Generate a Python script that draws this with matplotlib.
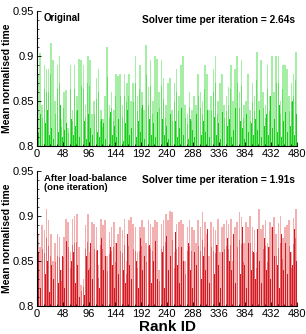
import matplotlib.pyplot as plt
import numpy as np

plt.rcParams['font.family'] = ['Liberation Sans', 'DejaVu Sans']

# heights above 0.8, in thousandths, one value every 4 ranks
# top panel (original), light bars at ranks 0,4,8..., dark bars at ranks 2,6,10...
orig_light = [80, 103, 45, 90, 85, 85, 115, 95, 50, 90, 100, 30, 60, 62, 20, 90, 40, 90, 55, 97,
              95, 90, 45, 100, 95, 35, 50, 75, 85, 40, 30, 55, 110, 45, 60, 40, 80, 78, 80, 45,
              80, 70, 80, 50, 70, 100, 55, 90, 60, 40, 112, 65, 95, 50, 100, 97, 60, 95, 75, 45,
              70, 75, 40, 70, 85, 55, 90, 100, 45, 35, 60, 40, 55, 45, 80, 60, 50, 90, 80, 40,
              55, 85, 100, 50, 70, 80, 45, 55, 65, 90, 50, 85, 100, 60, 95, 45, 50, 80, 40, 70,
              55, 105, 50, 95, 60, 45, 90, 55, 100, 60, 100, 100, 50, 90, 90, 85, 55, 70, 80, 105]
orig_dark = [15, 35, 10, 25, 40, 12, 20, 8, 30, 15, 45, 10, 18, 25, 5, 30, 12, 22, 40, 10,
             15, 28, 8, 35, 20, 12, 42, 15, 10, 30, 25, 8, 18, 38, 12, 22, 10, 30, 15, 5,
             25, 40, 12, 20, 35, 10, 28, 15, 45, 8, 20, 30, 12, 25, 10, 38, 18, 30, 12, 22,
             8, 35, 15, 28, 10, 20, 42, 12, 25, 8, 30, 18, 10, 35, 22, 12, 28, 15, 40, 10,
             20, 32, 12, 25, 8, 38, 15, 22, 30, 10, 18, 42, 12, 28, 20, 8, 35, 15, 25, 12,
             30, 18, 40, 10, 22, 35, 12, 55, 20, 30, 15, 45, 10, 28, 38, 15, 22, 50, 12, 35]

# bottom panel (after load-balance)
lb_light = [80, 65, 90, 84, 108, 95, 80, 50, 70, 80, 77, 40, 77, 97, 93, 60, 97, 100, 102, 65,
            23, 30, 90, 102, 60, 93, 91, 88, 45, 97, 90, 95, 55, 82, 88, 93, 70, 80, 88, 84,
            97, 50, 95, 99, 91, 88, 60, 88, 95, 88, 70, 95, 91, 88, 95, 93, 40, 91, 95, 102,
            95, 106, 104, 60, 91, 93, 95, 91, 50, 88, 95, 88, 84, 70, 95, 88, 104, 93, 80, 55,
            93, 88, 84, 97, 60, 88, 91, 95, 91, 97, 50, 88, 93, 104, 99, 70, 93, 88, 100, 88,
            84, 60, 108, 85, 90, 95, 70, 93, 88, 99, 80, 92, 100, 75, 88, 90, 95, 60, 98, 108]
lb_dark = [60, 20, 70, 35, 50, 15, 45, 30, 65, 25, 40, 55, 20, 72, 35, 50, 60, 25, 45, 10,
           5, 12, 55, 40, 70, 30, 48, 62, 20, 75, 40, 55, 30, 65, 45, 20, 70, 35, 58, 40,
           25, 80, 45, 30, 65, 50, 20, 75, 40, 55, 35, 68, 25, 50, 72, 30, 45, 60, 20, 78,
           40, 55, 30, 82, 45, 25, 65, 50, 35, 70, 40, 20, 60, 45, 75, 30, 55, 40, 85, 25,
           50, 35, 68, 45, 20, 60, 30, 75, 50, 40, 80, 25, 55, 35, 88, 45, 20, 70, 40, 60,
           30, 85, 50, 25, 75, 40, 65, 30, 88, 55, 45, 20, 80, 40, 70, 35, 60, 45, 85, 50]

xticks = np.arange(0, 481, 48)
yticks = [0.8, 0.85, 0.9, 0.95]

fig = plt.figure(figsize=(3.06, 3.34), dpi=100)
ax1 = fig.add_axes([0.121, 0.563, 0.85, 0.404])
ax2 = fig.add_axes([0.121, 0.084, 0.85, 0.404])


def draw(ax, light, dark, c_light, c_mid, c_dark):
    r = np.arange(len(light)) * 4
    light = np.array(light) / 1000
    dark = np.array(dark) / 1000
    ax.bar(r, light, bottom=0.8, width=3.0, color=c_light, linewidth=0, align='edge')
    # lower part of the tall bars is a stronger shade
    ax.bar(r + 0.8, light * 0.7, bottom=0.8, width=1.4, color=c_mid, linewidth=0, align='edge')
    ax.bar(r + 2.2, dark, bottom=0.8, width=1.6, color=c_dark, linewidth=0, align='edge')
    ax.set_xlim(0, 480)
    ax.set_ylim(0.8, 0.95)
    ax.set_xticks(xticks)
    ax.set_yticks(yticks)
    ax.set_yticklabels(['0.8', '0.85', '0.9', '0.95'])
    ax.minorticks_on()
    ax.tick_params(direction='in', labelsize=8, length=3, width=0.6, pad=2)
    ax.tick_params(which='minor', direction='in', length=1.5, width=0.5)
    for s in ['top', 'right']:
        ax.spines[s].set_visible(False)
    ax.set_ylabel('Mean normalised time', fontsize=7.5, fontweight='bold')
    ax.yaxis.set_label_coords(-0.097, 0.5)


draw(ax1, orig_light, orig_dark, '#a6eea6', '#66e066', '#1ccc1c')
draw(ax2, lb_light, lb_dark, '#f2b0b0', '#e66a6e', '#d01a24')

ax1.text(0.025, 0.95, 'Original', transform=ax1.transAxes, fontsize=7, fontweight='bold', va='center')
ax1.text(0.99, 0.933, 'Solver time per iteration = 2.64s', transform=ax1.transAxes,
         fontsize=7.3, fontweight='bold', va='center', ha='right')
ax2.text(0.025, 0.98, 'After load-balance\n(one iteration)', transform=ax2.transAxes,
         fontsize=6.8, fontweight='bold', va='top', linespacing=1.0)
ax2.text(0.99, 0.933, 'Solver time per iteration = 1.91s', transform=ax2.transAxes,
         fontsize=7.3, fontweight='bold', va='center', ha='right')
ax2.set_xlabel('Rank ID', fontsize=11, fontweight='bold', labelpad=1)

fig.savefig('out.png', dpi=100)
